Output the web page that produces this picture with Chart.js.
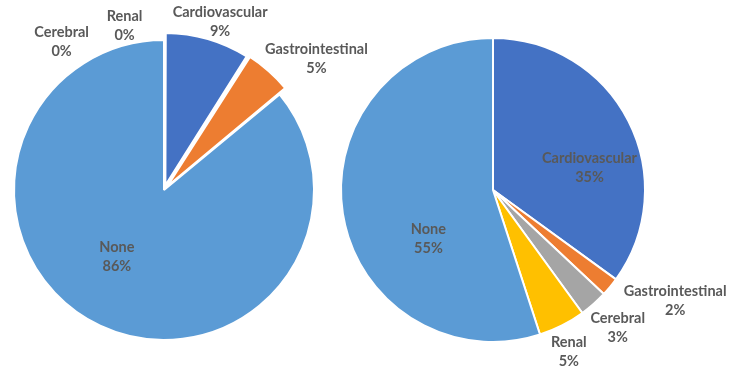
<!DOCTYPE html>
<html>
<head>
<meta charset="utf-8">
<script src="https://cdn.jsdelivr.net/npm/chart.js@4.4.1/dist/chart.umd.min.js"></script>
<style>
  html, body { margin: 0; padding: 0; background: #fff; }
  #wrap { position: relative; width: 737px; height: 367px; overflow: hidden; }
  #wrap canvas { position: absolute; left: 0; top: 0; }
</style>
</head>
<body>
<div id="wrap">
  <canvas id="leftPie" width="737" height="367"></canvas>
  <canvas id="rightPie" width="737" height="367"></canvas>
</div>
<script>
// categories shared by both pies (Excel colour order)
const categories = ["Cardiovascular", "Gastrointestinal", "Cerebral", "Renal", "None"];
const colors = ["#4472C4", "#ED7D31", "#A5A5A5", "#FFC000", "#5B9BD5"];

// left pie values (%)
const leftValues = [9, 5, 0, 0, 86];
// right pie values (%)
const rightValues = [35, 2, 3, 5, 55];

// label placement: "in" = inside the slice, "out" = outside; nudge in px
const leftPlacement = [
  { mode: "out", dx: 7, dy: 1 },
  { mode: "out", dx: 36, dy: 1 },
  { mode: "out", dx: -238, dy: -36 },
  { mode: "out", dx: -175, dy: -52 },
  { mode: "in", dx: -12, dy: -8 },
];
const rightPlacement = [
  { mode: "in", dx: 22, dy: 16 },
  { mode: "out", dx: 45, dy: -3 },
  { mode: "out", dx: 7, dy: 4 },
  { mode: "out", dx: -5, dy: 3 },
  { mode: "in", dx: 18, dy: 36 },
];

const labelPlugin = {
  id: "sliceLabels",
  afterDatasetsDraw(chart, args, opts) {
    const ctx = chart.ctx;
    const meta = chart.getDatasetMeta(0);
    const values = chart.data.datasets[0].data;
    const total = values.reduce((s, v) => s + v, 0);
    ctx.save();
    ctx.font = "bold 14.5px Lato, 'DejaVu Sans', sans-serif";
    ctx.fillStyle = "#595959";
    ctx.textAlign = "center";
    ctx.textBaseline = "middle";
    meta.data.forEach((arc, i) => {
      const p = opts.placement[i];
      const mid = (arc.startAngle + arc.endAngle) / 2;
      const dist = p.mode === "in" ? arc.outerRadius * opts.inFactor : arc.outerRadius + opts.outGap;
      const x = arc.x + Math.cos(mid) * dist + p.dx;
      const y = arc.y + Math.sin(mid) * dist + p.dy;
      const pct = Math.round((values[i] / total) * 100) + "%";
      ctx.fillText(chart.data.labels[i], x, y - 9.5);
      ctx.fillText(pct, x, y + 9.5);
    });
    ctx.restore();
  },
};

function makePie(id, values, placement, opts) {
  return new Chart(document.getElementById(id), {
    type: "pie",
    data: {
      labels: categories,
      datasets: [
        {
          data: values,
          backgroundColor: colors,
          borderColor: "#ffffff",
          borderWidth: 2,
          offset: opts.offset,
        },
      ],
    },
    options: {
      responsive: false,
      animation: false,
      events: [],
      radius: opts.radius,
      layout: { padding: opts.padding },
      plugins: {
        legend: { display: false },
        tooltip: { enabled: false },
        sliceLabels: { placement: placement, inFactor: 0.55, outGap: 26 },
      },
    },
    plugins: [labelPlugin],
  });
}

makePie("leftPie", leftValues, leftPlacement, {
  radius: 150,
  offset: [20, 20, 0, 0, 0],
  padding: { left: 0, right: 409, top: 13, bottom: 0 },
});

makePie("rightPie", rightValues, rightPlacement, {
  radius: 152,
  offset: 0,
  padding: { left: 249, right: 0, top: 13, bottom: 0 },
});
</script>
</body>
</html>
